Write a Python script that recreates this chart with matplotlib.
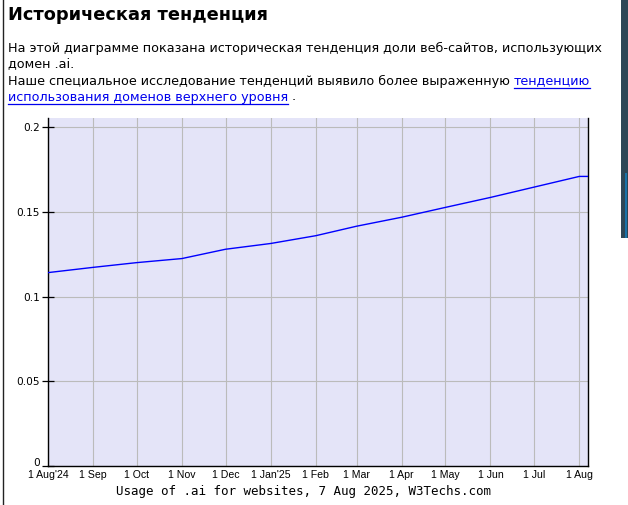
import matplotlib
matplotlib.use("Agg")
import matplotlib.pyplot as plt
from matplotlib.patches import Rectangle
from matplotlib.lines import Line2D
import datetime as dt

W, H = 628, 505

# monthly share of websites using .ai (fraction, %)
dates = ["2024-08-01", "2024-09-01", "2024-10-01", "2024-11-01", "2024-12-01",
         "2025-01-01", "2025-02-01", "2025-03-01", "2025-04-01", "2025-05-01",
         "2025-06-01", "2025-07-01", "2025-08-01", "2025-08-07"]
values = [0.1142, 0.1173, 0.1201, 0.1225, 0.1280, 0.1314, 0.1360, 0.1416,
          0.1469, 0.1527, 0.1586, 0.1647, 0.1710, 0.1710]
tick_dates = dates[:13]
tick_labels = ["1 Aug'24", "1 Sep", "1 Oct", "1 Nov", "1 Dec", "1 Jan'25",
               "1 Feb", "1 Mar", "1 Apr", "1 May", "1 Jun", "1 Jul", "1 Aug"]
y_ticks = [0, 0.05, 0.1, 0.15, 0.2]
y_labels = ["0", "0.05", "0.1", "0.15", "0.2"]

title = "Историческая тенденция"
line1 = "На этой диаграмме показана историческая тенденция доли веб-сайтов, использующих"
line2 = "домен .ai."
line3 = "Наше специальное исследование тенденций выявило более выраженную "
link1 = "тенденцию"
link2 = "использования доменов верхнего уровня"
tail = " ."
caption = "Usage of .ai for websites, 7 Aug 2025, W3Techs.com"


def fx(x):
    return x / W


def fy(y):
    return 1 - y / H


to_dt = lambda s: dt.datetime.strptime(s, "%Y-%m-%d")

fig = plt.figure(figsize=(W / 100, H / 100), dpi=100)
fig.patch.set_facecolor("white")

# page chrome: left frame line and scrollbar on the right
fig.add_artist(Line2D([fx(2.5), fx(2.5)], [0, 1], color="#222222", lw=1))
fig.add_artist(Rectangle((fx(621), fy(238)), fx(7), 238 / H,
                         facecolor="#2e4656", edgecolor="none"))
fig.add_artist(Rectangle((fx(625), fy(238)), fx(2), 65 / H,
                         facecolor="#1a72a8", edgecolor="none"))

font = "DejaVu Sans"
fs = 9.2
fig.text(fx(8), fy(15), title, fontsize=12.8, fontweight="bold",
         family=font, va="center", ha="left")
fig.text(fx(8), fy(48), line1, fontsize=fs, family=font, va="center")
fig.text(fx(8), fy(64), line2, fontsize=fs, family=font, va="center")
t3 = fig.text(fx(8), fy(81), line3, fontsize=fs, family=font, va="center")

fig.canvas.draw()
r = fig.canvas.get_renderer()
bb = t3.get_window_extent(r)
tl1 = fig.text(bb.x1 / W, fy(81), link1, fontsize=fs, family=font,
               va="center", color="#0000ee")
tl2 = fig.text(fx(8), fy(97), link2, fontsize=fs, family=font,
               va="center", color="#0000ee")
fig.canvas.draw()
for t, ybase in [(tl1, 88), (tl2, 104)]:
    b = t.get_window_extent(r)
    fig.add_artist(Line2D([b.x0 / W, b.x1 / W], [fy(ybase), fy(ybase)],
                          color="#0000ee", lw=0.9))
b2 = tl2.get_window_extent(r)
fig.text(b2.x1 / W, fy(97), tail, fontsize=fs, family=font, va="center")

# chart
ax = fig.add_axes([fx(48), fy(466), fx(540), (466 - 118) / H])
ax.set_facecolor("#e4e4f8")
ax.plot([to_dt(d) for d in dates], values, color="#0000ff", lw=1, zorder=3)
ax.set_xlim(to_dt("2024-08-01"), to_dt("2025-08-07"))
ax.set_ylim(0, 0.2055)

ax.set_xticks([to_dt(d) for d in tick_dates])
ax.set_xticklabels(tick_labels, family=["Liberation Sans Narrow", "Liberation Sans"],
                   fontsize=7.6)
ax.set_yticks(y_ticks)
ax.set_yticklabels(y_labels, family=font, fontsize=7.6)
ax.get_yticklabels()[0].set_va("baseline")
ax.tick_params(axis="x", length=0, pad=3)
ax.tick_params(axis="y", direction="inout", length=8, width=0.9, pad=2)
ax.grid(True, color="#bbbbbb", lw=0.8, zorder=0)
ax.set_axisbelow(True)
ax.spines["top"].set_visible(False)
for s in ["left", "right", "bottom"]:
    ax.spines[s].set_color("black")
    ax.spines[s].set_linewidth(1.0)

fig.text(fx(304), fy(491), caption, fontsize=9, family="DejaVu Sans Mono",
         ha="center", va="center")

fig.savefig("out.png", dpi=100)
